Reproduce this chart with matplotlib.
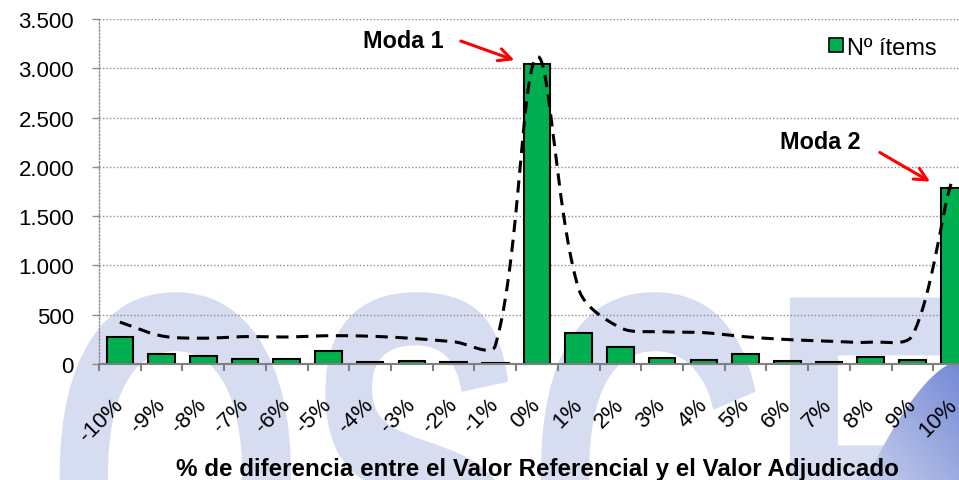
import numpy as np
import matplotlib
matplotlib.use("Agg")
import matplotlib.pyplot as plt
from matplotlib.textpath import TextPath
from matplotlib.font_manager import FontProperties
from matplotlib.patches import PathPatch, Polygon
from matplotlib.transforms import Affine2D, ScaledTranslation
from matplotlib.ticker import FuncFormatter
from matplotlib.lines import Line2D
from matplotlib.colors import LinearSegmentedColormap

plt.rcParams['font.family'] = ['Liberation Sans', 'DejaVu Sans']

categories = ['-10%', '-9%', '-8%', '-7%', '-6%', '-5%', '-4%', '-3%', '-2%', '-1%',
              '0%', '1%', '2%', '3%', '4%', '5%', '6%', '7%', '8%', '9%', '10%']
items = [275, 100, 82, 48, 48, 132, 24, 30, 20, 15,
         3040, 314, 172, 64, 37, 98, 27, 17, 71, 44, 1782]
trend = [425, 285, 262, 278, 274, 287, 282, 260, 226, 186,
         3115, 760, 368, 328, 318, 276, 248, 232, 222, 290, 1870]
yticks = [0, 500, 1000, 1500, 2000, 2500, 3000, 3500]
legend_label = 'Nº ítems'
xlabel = '% de diferencia entre el Valor Referencial y el Valor Adjudicado'

GREEN = '#00b050'
W, H = 959, 481

fig = plt.figure(figsize=(W / 100, H / 100), dpi=100)

# background watermark
bg = fig.add_axes([0, 0, 1, 1], zorder=-5)
bg.set_xlim(0, W)
bg.set_ylim(H, 0)
bg.axis('off')
tp = TextPath((0, 0), 'OSCE', size=1, prop=FontProperties(family='Liberation Sans', weight='bold'))
tr = Affine2D().scale(333, -520).translate(46, 284 + 0.716 * 520)
bg.add_patch(PathPatch(tr.transform_path(tp), facecolor='#d6ddf1', edgecolor='none'))
gx, gy = np.meshgrid(np.linspace(0, 1, 200), np.linspace(0, 1, 200))
grad = (gx + gy) / 2
cmap = LinearSegmentedColormap.from_list('wm', ['#d0d7f0', '#6a80d2'])
im = bg.imshow(grad, extent=[840, W, 330, H], cmap=cmap, origin='upper', aspect='auto',
               interpolation='bilinear', zorder=1)
bt = np.linspace(0, 1, 30)
curve = np.column_stack([W - (W - 866) * bt ** 0.8, 362 + (H - 362) * bt ** 1.3])
clip = Polygon(np.vstack([curve, [[W, H]]]), closed=True, transform=bg.transData)
im.set_clip_path(clip)

ax = fig.add_axes([99 / W, 1 - 365 / H, (975 - 99) / W, (365 - 20) / H])
ax.patch.set_alpha(0)

x = np.arange(len(categories))
ax.bar(x, items, width=0.64, color=GREEN, edgecolor='black', linewidth=1.5,
       zorder=3, label=legend_label)

ax.set_xlim(-0.5, len(categories) - 0.5)
ax.set_ylim(0, 3500)

# Excel-like smoothed line: cubic Bezier with chord-length weighted Catmull-Rom tangents
pxx = (975 - 99) / len(categories)
pxy = (365 - 20) / 3500
P = np.column_stack([x * pxx, np.array(trend, float) * pxy])
n = len(P)
d = np.linalg.norm(np.diff(P, axis=0), axis=1)
pts = []
t = np.linspace(0, 1, 40)[:, None]
for i in range(n - 1):
    L = d[i]
    if i == 0:
        a1 = (P[1] - P[0]) / 3
    else:
        a1 = (P[i + 1] - P[i - 1]) * (L / (d[i - 1] + L)) / 3
    if i + 1 == n - 1:
        a2 = np.array([pxx / 5, 0.0])
    else:
        a2 = (P[i + 2] - P[i]) * (L / (L + d[i + 1])) / 3
    c1 = P[i] + a1
    c2 = P[i + 1] - a2
    seg = (1 - t) ** 3 * P[i] + 3 * (1 - t) ** 2 * t * c1 + 3 * (1 - t) * t ** 2 * c2 + t ** 3 * P[i + 1]
    pts.append(seg)
pts = np.vstack(pts)
ax.plot(pts[:, 0] / pxx, pts[:, 1] / pxy, color='black', linestyle=(0, (4, 2.5)),
        linewidth=2.2, zorder=4)

ax.set_yticks(yticks)
ax.yaxis.set_major_formatter(FuncFormatter(lambda v, p: f'{int(v):,}'.replace(',', '.')))
ax.grid(axis='y', color='#8c8c8c', linestyle=(0, (1, 1.5)), linewidth=1.0, zorder=0)

ax.set_xticks(x)
ax.set_xticks(np.arange(-0.5, len(categories), 1), minor=True)
ax.set_xticklabels(categories, rotation=45, ha='right', va='center', rotation_mode='anchor')
for lab in ax.get_xticklabels():
    lab.set_transform(lab.get_transform() + ScaledTranslation(11 / 100, 0, fig.dpi_scale_trans))
ax.tick_params(axis='x', which='major', length=0, pad=27, labelsize=16)
ax.tick_params(axis='x', which='minor', length=5, width=1.5, color='#808080')
ax.tick_params(axis='y', length=5, width=1, color='#8c8c8c', labelsize=16, pad=13)

for s in ['top', 'right']:
    ax.spines[s].set_visible(False)
ax.spines['left'].set_color('#8c8c8c')
ax.spines['left'].set_linestyle((0, (1, 1.5)))
ax.spines['left'].set_linewidth(1.0)
ax.spines['bottom'].set_color('#808080')
ax.spines['bottom'].set_linewidth(1.5)
ax.spines['bottom'].set_zorder(5)

ax.set_xlabel(xlabel, fontsize=17.4, fontweight='bold', labelpad=8)

handle = Line2D([], [], marker='s', color='none', markerfacecolor=GREEN,
                markeredgecolor='black', markersize=10, markeredgewidth=1.2)
ax.legend([handle], [legend_label], loc='upper right', bbox_to_anchor=(0.972, 0.99),
          frameon=False, fontsize=17, handlelength=0.6, handletextpad=0.15,
          borderaxespad=0.2)

ax.text(6.79, 3286, 'Moda 1', fontsize=16.8, fontweight='bold', ha='center', va='center')
ax.annotate('', xy=(9.52, 3073), xytext=(8.11, 3286),
            arrowprops=dict(arrowstyle='->,head_length=0.9,head_width=0.45', color='red', lw=2.2))
ax.text(16.79, 2262, 'Moda 2', fontsize=16.8, fontweight='bold', ha='center', va='center')
ax.annotate('', xy=(19.48, 1836), xytext=(18.16, 2160),
            arrowprops=dict(arrowstyle='->,head_length=0.9,head_width=0.45', color='red', lw=2.2))

fig.savefig('out.png', dpi=100)
